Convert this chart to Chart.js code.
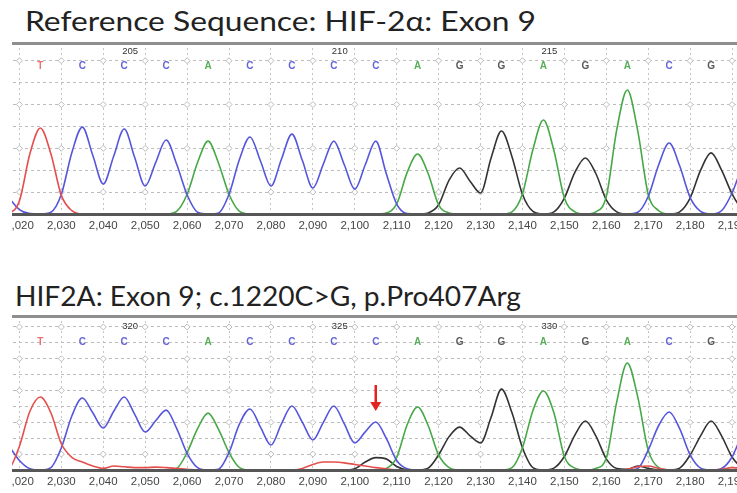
<!DOCTYPE html>
<html>
<head>
<meta charset="utf-8">
<script src="https://cdn.jsdelivr.net/npm/chart.js@4.4.1/dist/chart.umd.min.js"></script>
<style>
  html, body { margin: 0; padding: 0; background: #fff; width: 737px; height: 493px; overflow: hidden; }
  .title { position: absolute; font-family: Lato, "Open Sans", sans-serif; font-size: 27px; line-height: 27px;
           color: #222; white-space: nowrap; transform-origin: 0 0; }
  .clip { position: absolute; left: 12px; width: 725px; overflow: hidden; }
  .clip canvas { position: absolute; left: -12px; top: 0; }
</style>
</head>
<body>
<div class="title" id="t1">Reference Sequence: HIF-2α: Exon 9</div>
<div class="clip" style="top:41px;height:193px"><canvas id="c1" width="760" height="193"></canvas></div>
<div class="title" id="t2">HIF2A: Exon 9; c.1220C&gt;G, p.Pro407Arg</div>
<div class="clip" style="top:314px;height:176px"><canvas id="c2" width="760" height="176"></canvas></div>

<script>
// Scan positions: traces are sampled every 2.5 scans starting at scan 2015
const scanStart = 2015;
const scanStep = 2.5;
const scanTicks = [2020, 2030, 2040, 2050, 2060, 2070, 2080, 2090, 2100, 2110,
                   2120, 2130, 2140, 2150, 2160, 2170, 2180, 2190];

// Base calls (same sequence in both reads)
const basePositions = [2025, 2035, 2045, 2055, 2065, 2075, 2085, 2095, 2105,
                       2115, 2125, 2135, 2145, 2155, 2165, 2175, 2185];
const baseLetters = ['T', 'C', 'C', 'C', 'A', 'C', 'C', 'C', 'C',
                     'A', 'G', 'G', 'A', 'G', 'A', 'C', 'G'];
const numberPositions = [2045, 2095, 2145];
const refNumbers = ['205', '210', '215'];
const patNumbers = ['320', '325', '330'];

// Reference read: signal per channel, one row per 10 scans
const refT = [0, 5, 60, 275,  393, 275, 85, 15,  0, 0, 0, 0,  0, 0, 0, 0,  0, 0, 0, 0,
              0, 0, 0, 0,  0, 0, 0, 0,  0, 0, 0, 0,  0, 0, 0, 0,  0, 0, 0, 0,
              0, 0, 0, 0,  0, 0, 0, 0,  0, 0, 0, 0,  0, 0, 0, 0,  0, 0, 0, 0,
              0, 0, 0, 0,  0, 0, 0, 0,  0, 0, 0, 0,  0];
const refC = [150, 75, 20, 2,  0, 8, 90, 280,  397, 268, 137, 265,  388, 258, 128, 235,
              338, 228, 88, 8,  0, 5, 90, 250,  352, 242, 128, 250,  365, 244, 119, 228,
              333, 225, 114, 225,  333, 185, 45, 2,  0, 0, 0, 0,  0, 0, 0, 0,
              0, 0, 0, 0,  0, 0, 0, 0,  0, 0, 0, 0,  0, 8, 80, 225,
              324, 220, 75, 12,  0, 15, 96, 220,  300];
const refA = [0, 0, 0, 0,  0, 0, 0, 0,  0, 0, 0, 0,  0, 0, 0, 0,
              0, 12, 90, 235,  333, 232, 90, 12,  0, 0, 0, 0,  0, 0, 0, 0,
              0, 0, 0, 0,  0, 5, 46, 190,  274, 185, 42, 5,  0, 0, 0, 0,
              0, 10, 92, 295,  429, 290, 73, 10,  0, 10, 80, 385,  566, 380, 90, 15,
              0, 0, 0, 0,  0, 0, 0, 0,  0];
const refG = [0, 0, 0, 0,  0, 0, 0, 0,  0, 0, 0, 0,  0, 0, 0, 0,  0, 0, 0, 0,
              0, 0, 0, 0,  0, 0, 0, 0,  0, 0, 0, 0,  0, 0, 0, 0,  0, 0, 0, 0,
              0, 5, 42, 155,  210, 150, 96, 255,  379, 262, 90, 12,  0, 10, 73, 190,
              256, 185, 65, 10,  0, 0, 0, 0,  0, 10, 73, 200,  279, 200, 92, 20,  2];

// Patient read (c.1220C>G): signal per channel
const patT = [0, 10, 150, 370,  459, 360, 165, 80,  50, 25, 10, 25,  20, 15, 15, 18,
              15, 10, 5, 0,  0, 0, 0, 0,  0, 0, 0, 0,  0, 10, 35, 50,
              50, 45, 35, 25,  15, 8, 0, 0,  0, 0, 0, 0,  0, 0, 0, 0,
              0, 0, 0, 0,  0, 0, 0, 0,  0, 0, 0, 0,  5, 20, 25, 10,
              0, 0, 0, 0,  0, 5, 15, 10,  5];
const patC = [220, 150, 60, 8,  0, 15, 140, 340,  453, 360, 264, 370,  459, 350, 239, 310,
              377, 262, 105, 15,  0, 5, 110, 290,  384, 270, 157, 290,  403, 300, 189, 300,
              403, 290, 170, 240,  302, 200, 60, 8,  0, 0, 0, 0,  0, 0, 0, 0,
              0, 0, 0, 0,  0, 0, 0, 0,  0, 0, 0, 0,  0, 10, 125, 280,
              365, 260, 95, 12,  0, 10, 82, 230,  330];
const patA = [0, 0, 0, 0,  0, 0, 0, 0,  0, 0, 0, 0,  0, 0, 0, 0,
              0, 10, 110, 260,  358, 255, 110, 15,  0, 0, 0, 0,  0, 0, 0, 0,
              0, 0, 0, 0,  0, 10, 80, 285,  396, 280, 95, 15,  0, 0, 0, 0,
              0, 15, 140, 375,  497, 360, 85, 12,  0, 10, 75, 430,  673, 460, 125, 15,
              0, 0, 0, 0,  0, 0, 0, 0,  0];
const patG = [0, 0, 0, 0,  0, 0, 0, 0,  0, 0, 0, 0,  0, 0, 0, 0,  0, 0, 0, 0,
              0, 0, 0, 0,  0, 0, 0, 0,  0, 0, 0, 0,  0, 0, 8, 50,  78, 70, 22, 2,
              0, 12, 95, 210,  270, 215, 170, 330,  509, 360, 140, 15,  0, 12, 85, 220,
              308, 215, 70, 10,  5, 25, 10, 0,  0, 12, 94, 215,  308, 215, 82, 15,  0];

const traceColors = { T: '#e4504e', C: '#5656dc', A: '#46a846', G: '#333333' };
const letterColors = { T: '#e97272', C: '#6464d8', A: '#58ad58', G: '#585858' };

// Horizontal scale: 4.2 px per scan, scan 2020 sits 18 px from the canvas edge
const PX_PER_SCAN = 4.2;
const X_MIN = 2020 - 18 / PX_PER_SCAN;
const X_MAX = X_MIN + 760 / PX_PER_SCAN;

function trace(values, base) {
  return {
    label: base,
    data: values.map((v, i) => ({ x: scanStart + i * scanStep, y: v })),
    borderColor: traceColors[base],
    borderWidth: 1.6,
    pointRadius: 0,
    fill: false,
    cubicInterpolationMode: 'monotone',
    xAxisID: 'x',
    yAxisID: 'y'
  };
}

// Base letters, position numbers, grid diamonds and the variant arrow
const annotate = {
  id: 'annotate',
  beforeDatasetsDraw(chart, args, o) {
    const { ctx, scales: { x, y } } = chart;
    ctx.save();
    ctx.strokeStyle = '#bcbcbc';
    ctx.fillStyle = '#fff';
    ctx.lineWidth = 1;
    o.diamondRows.forEach(r => {
      const py = y.getPixelForValue(r);
      scanTicks.forEach(t => {
        const px = x.getPixelForValue(t);
        ctx.beginPath();
        ctx.moveTo(px - 3, py); ctx.lineTo(px, py - 3); ctx.lineTo(px + 3, py); ctx.lineTo(px, py + 3);
        ctx.closePath();
        ctx.fill(); ctx.stroke();
      });
    });
    ctx.restore();
  },
  afterDatasetsDraw(chart, args, o) {
    const { ctx, scales: { x, y } } = chart;
    ctx.save();
    ctx.textAlign = 'center';
    ctx.textBaseline = 'middle';
    ctx.font = 'bold 10px "Liberation Sans", Arial, sans-serif';
    const ly = y.getPixelForValue(o.letterRow);
    baseLetters.forEach((b, i) => {
      ctx.fillStyle = letterColors[b];
      ctx.fillText(b, x.getPixelForValue(basePositions[i]), ly);
    });
    ctx.font = '9.5px "Liberation Sans", Arial, sans-serif';
    ctx.fillStyle = '#333';
    ctx.textAlign = 'left';
    const ny = y.getPixelForValue(o.numberRow);
    o.numbers.forEach((n, i) => ctx.fillText(n, x.getPixelForValue(numberPositions[i]) - 2, ny));
    if (o.arrow) {
      const ax = x.getPixelForValue(o.arrow.x);
      const y0 = y.getPixelForValue(o.arrow.from);
      const y1 = y.getPixelForValue(o.arrow.to);
      ctx.strokeStyle = '#e3231f';
      ctx.fillStyle = '#e3231f';
      ctx.lineWidth = 2.5;
      ctx.beginPath(); ctx.moveTo(ax, y0); ctx.lineTo(ax, y1 - 6); ctx.stroke();
      ctx.beginPath(); ctx.moveTo(ax - 5.5, y1 - 9); ctx.lineTo(ax + 5.5, y1 - 9); ctx.lineTo(ax, y1); ctx.closePath(); ctx.fill();
    }
    ctx.restore();
  }
};

function makeChart(id, series, yMax, gridRows, ann) {
  return new Chart(document.getElementById(id), {
    type: 'line',
    data: { datasets: [trace(series.T, 'T'), trace(series.C, 'C'), trace(series.A, 'A'), trace(series.G, 'G')] },
    options: {
      responsive: false,
      animation: false,
      events: [],
      layout: { padding: { top: 2, left: 0, right: 0, bottom: 0 } },
      plugins: { legend: { display: false }, tooltip: { enabled: false }, annotate: ann },
      scales: {
        x: {
          type: 'linear', position: 'bottom', min: X_MIN, max: X_MAX,
          afterBuildTicks: s => { s.ticks = scanTicks.map(v => ({ value: v })); },
          afterFit: s => { s.height = 20; },
          ticks: {
            autoSkip: false, maxRotation: 0, padding: 5, color: '#454545',
            font: { family: '"Liberation Sans", Arial, sans-serif', size: 11.5 },
            callback: v => v.toLocaleString('en-US')
          },
          grid: { color: '#c4c4c4', lineWidth: 1, drawTicks: false, borderDash: [2, 3] },
          border: { display: true, color: '#575757', width: 3, dash: [2, 3], z: 1 }
        },
        xTop: {
          type: 'linear', position: 'top', min: X_MIN, max: X_MAX,
          afterFit: s => { s.height = 0; },
          ticks: { display: false },
          grid: { display: false, drawTicks: false },
          border: { display: true, color: '#8e8e8e', width: 3, z: 1 }
        },
        y: {
          type: 'linear', min: 0, max: yMax,
          afterBuildTicks: s => { s.ticks = gridRows.map(v => ({ value: v })); },
          afterFit: s => { s.width = 0; },
          ticks: { display: false },
          grid: { color: '#bdbdbd', lineWidth: 1, drawTicks: false, borderDash: [3, 3] },
          border: { display: false, dash: [3, 3] }
        }
      }
    },
    plugins: [annotate]
  });
}

makeChart('c1', { T: refT, C: refC, A: refA, G: refG }, 781,
  [100, 200, 300, 400, 500, 600, 700],
  { letterRow: 676, numberRow: 744, numbers: refNumbers, diamondRows: [100, 300, 500, 700] });

makeChart('c2', { T: patT, C: patC, A: patA, G: patG }, 969,
  [100, 200, 300, 400, 500, 600, 700, 800, 900],
  { letterRow: 805, numberRow: 906, numbers: patNumbers, diamondRows: [100, 300, 500, 700, 900],
    arrow: { x: 2105, from: 535, to: 371 } });

// Titles: place and stretch to their line widths
function placeTitle(id, left, top, width) {
  const el = document.getElementById(id);
  el.style.left = left + 'px';
  el.style.top = top + 'px';
  const w = el.getBoundingClientRect().width;
  el.style.transform = 'scaleX(' + (width / w) + ')';
}
placeTitle('t1', 25, 7, 511);
placeTitle('t2', 15, 282, 506);
</script>
</body>
</html>
